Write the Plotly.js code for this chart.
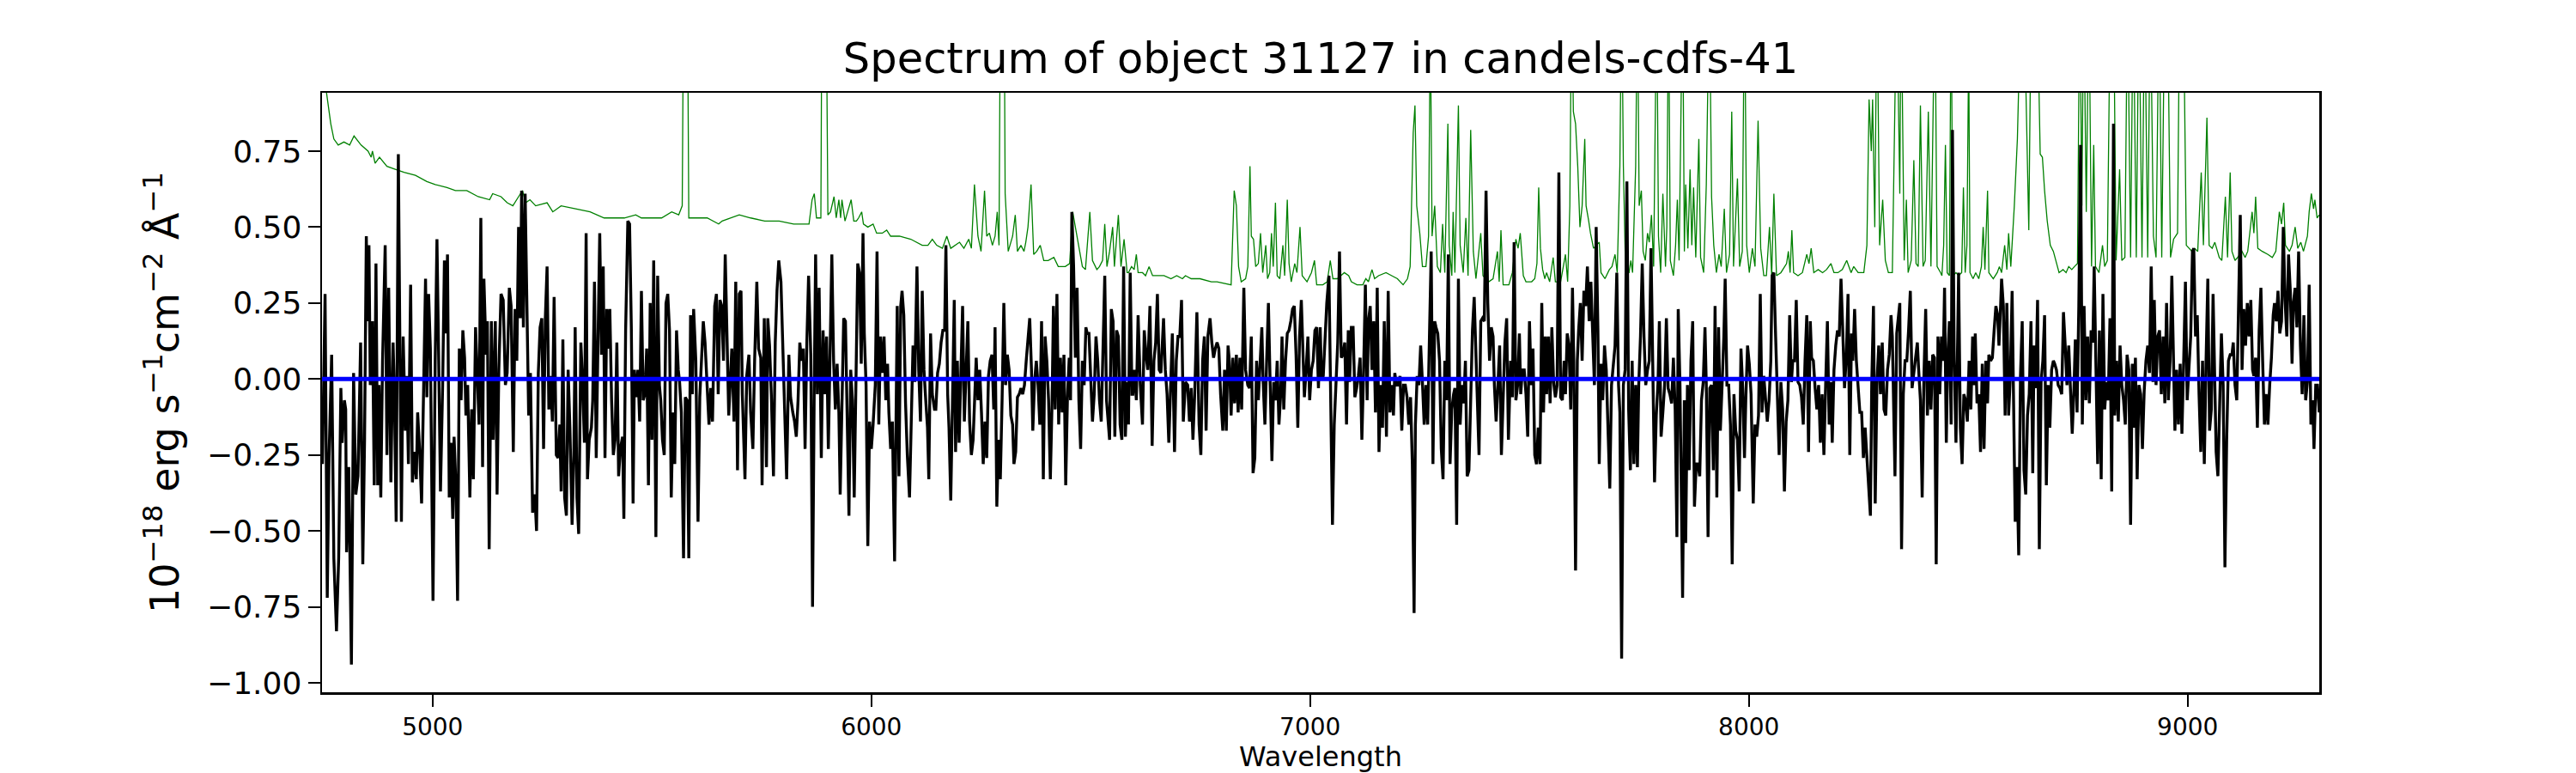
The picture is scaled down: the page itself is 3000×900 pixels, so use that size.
<!DOCTYPE html>
<html>
<head>
<meta charset="utf-8">
<script src="https://cdn.plot.ly/plotly-3.0.1.min.js"></script>
<style>html,body{margin:0;padding:0;background:#fff;}#chart{width:3000px;height:900px;}</style>
</head>
<body>
<div id="chart"></div>
<script>
// ---- Data ----
const fluxWave = [
4749,4752,4755,4760,4764,4770,4775,4781,4786,4791,4794,4799,4802,4804,4809,4815,4820,4825,4830,4836,4841,4845,4849,4852,4855,4858,4863,4867,4871,4875,4878,4882,4886,4892,4896,4900,4905,4910,4913,4917,4922,4926,4929,4933,4938,4941,4945,4950,4954,4959,4963,4966,4971,4975,4979,4984,4987,4991,4995,5001,5006,5010,5014,5018,5023,5027,5031,5034,5038,5042,5046,5049,5053,5057,5061,5065,5069,5073,5076,5080,5085,5089,5093,5098,5102,5106,5110,5114,5117,5122,5125,5129,5134,5138,5143,5147,5151,5156,5161,5166,5170,5175,5179,5184,5188,5192,5196,5200,5203,5207,5211,5215,5219,5223,5228,5233,5237,5241,5245,5249,5253,5257,5261,5265,5269,5273,5277,5282,5286,5290,5293,5297,5301,5305,5309,5313,5318,5322,5325,5329,5333,5338,5342,5346,5350,5353,5357,5362,5365,5369,5373,5377,5381,5385,5389,5393,5397,5401,5404,5408,5412,5416,5420,5424,5428,5433,5436,5440,5445,5449,5453,5457,5460,5464,5468,5472,5476,5480,5484,5488,5492,5496,5500,5504,5509,5513,5517,5520,5524,5528,5532,5536,5540,5544,5548,5552,5556,5560,5563,5567,5572,5576,5580,5584,5588,5592,5595,5600,5605,5609,5613,5617,5621,5626,5630,5634,5638,5643,5647,5651,5655,5659,5663,5667,5671,5675,
5682,5687,5691,5695,5699,5703,5706,5712,5716,5721,5725,5730,5734,5739,5743,5748,5751,5756,5761,5764,5768,5772,5777,5781,5785,5789,5794,5798,5802,5807,5812,5816,5821,5825,5829,5833,5837,5841,5845,5849,5853,5857,5862,5866,5870,5873,5877,5881,5886,5890,5894,5898,5902,5906,5910,5914,5918,5922,5926,5929,5933,5937,5941,5945,5949,5953,5957,5961,5965,5969,5973,5977,5981,5984,5988,5992,5996,6000,6004,6009,6013,6017,6021,6025,6029,6033,6037,6040,6044,6048,6053,6056,6059,6063,6067,6070,6074,6078,6082,6087,6091,6095,6099,6104,6108,6112,6116,6120,6124,6128,6131,6135,6139,6144,6147,6151,6155,6159,6163,6167,6170,6174,6177,6181,6185,6189,6192,6196,6200,6204,6208,6212,6216,6220,6224,6228,6232,6236,6239,6243,6247,6251,6255,6259,6263,6267,6271,6275,6279,6282,6286,6290,6294,6298,6302,6306,6310,6314,6318,6322,6325,6329,6333,6337,6341,6345,6349,6353,6357,6361,6365,6368,6372,6376,6380,6384,6388,6392,6396,6400,6404,6408,6412,6415,6419,6423,6427,6431,6435,6439,6443,6447,6451,6454,6457,6461,6465,6469,6473,6477,6481,6485,6489,6492,6496,6500,6504,6508,6512,6516,6520,6524,6528,6532,6536,6539,6543,6547,6551,6555,6559,6563,6567,6571,6575,6579,6583,6586,6590,6594,
6596,6600,6604,6608,6613,6618,6622,6626,6630,6635,6640,6644,6648,6652,6656,6660,6666,6670,6674,6678,6682,6686,6691,6695,6699,6703,6707,6711,6716,6721,6725,6729,6733,6737,6742,6747,6751,6755,6759,6763,6767,6772,6776,6780,6784,6788,6792,6796,6801,6805,6809,6813,6816,6820,6824,6828,6832,6836,6840,6844,6849,6853,6858,6862,6866,6870,6874,6878,6882,6886,6890,6893,6897,6901,6905,6909,6913,6917,6921,6925,6929,6933,6936,6940,6944,6948,6952,6956,6960,6964,6968,6972,6976,6980,6983,6987,6991,6995,6999,7003,7007,7011,7015,7019,7023,7026,7030,7034,7038,7043,7047,7051,7055,7059,7063,7067,7071,7075,7079,7083,7087,7090,7094,7098,7102,7106,7110,7114,7118,7122,7126,7130,7133,7137,7141,7145,7149,7153,7157,7161,7165,7169,7174,7178,7182,7186,7190,7193,7197,7201,7205,7209,7213,7217,7221,7225,7229,7233,7237,7240,7244,7248,7252,7256,7260,7264,7268,7272,7276,7280,7284,7287,7291,7295,7299,7303,7307,7311,7315,7319,7323,7327,7330,7334,7338,7342,7346,7350,7354,7358,7362,7366,7370,7374,7377,7381,7385,7389,7393,7397,7401,7405,7409,7413,7417,7420,7424,7428,7432,7436,7440,7444,7448,7452,7457,7461,7465,7469,7473,7477,7480,7484,7488,7492,7496,7500,7504,7508,7512,7516,
7520,7524,7528,7532,7536,7539,7543,7547,7551,7555,7559,7563,7567,7571,7575,7579,7582,7586,7590,7594,7598,7601,7605,7609,7612,7616,7620,7624,7628,7632,7636,7640,7644,7648,7652,7656,7659,7663,7667,7671,7675,7679,7683,7687,7691,7695,7699,7703,7706,7710,7714,7718,7722,7726,7730,7734,7738,7742,7746,7749,7753,7757,7761,7765,7769,7773,7777,7781,7785,7789,7793,7796,7800,7804,7808,7812,7816,7820,7824,7828,7832,7836,7839,7843,7849,7853,7856,7860,7864,7868,7872,7876,7880,7884,7888,7892,7896,7900,7903,7907,7911,7915,7919,7923,7927,7931,7935,7939,7943,7946,7950,7954,7958,7962,7966,7970,7974,7978,7982,7986,7990,7993,7997,8001,8005,8010,8014,8018,8022,8026,8030,8034,8038,8042,8046,8050,8053,8057,8061,8065,8069,8073,8077,8081,8085,8089,8093,8097,8100,8104,8108,8112,8116,8120,8124,8128,8132,8136,8140,8143,8147,8151,8155,8159,8163,8167,8171,8175,8179,8183,8187,8190,8194,8198,8202,8206,8210,8214,8218,8222,8226,8230,8234,8237,8241,8245,8249,8253,8257,8261,8265,8269,8273,8277,8280,8284,8288,8292,8296,8300,8304,8308,8312,8316,8320,8324,8327,8333,8337,8340,8344,8348,8352,8356,8360,8364,8368,8372,8376,8380,8384,8387,8391,8395,8399,8403,8407,8411,8415,8419,8423,8427,8431,8434,
8435,8439,8443,8446,8450,8453,8457,8461,8464,8468,8472,8476,8478,8482,8486,8490,8494,8498,8502,8506,8510,8514,8516,8520,8524,8528,8532,8536,8540,8544,8547,8551,8555,8559,8563,8567,8570,8574,8576,8580,8584,8588,8592,8596,8600,8604,8607,8611,8615,8619,8623,8627,8631,8635,8639,8643,8647,8650,8654,8658,8662,8666,8670,8674,8678,8682,8686,8690,8694,8697,8701,8705,8709,8713,8717,8721,8725,8729,8733,8737,8741,8744,8748,8752,8756,8760,8764,8768,8772,8776,8780,8784,8787,8791,8795,8799,8803,8807,8811,8815,8819,8823,8827,8831,8834,8838,8842,8846,8850,8854,8858,8862,8866,8870,8874,8877,8881,8885,8889,8893,8897,8901,8905,8909,8913,8917,8921,8924,8928,8932,8936,8940,8944,8948,8952,8956,8960,8964,8968,8971,8975,8979,8983,8987,8991,8995,8999,9003,9007,9011,9014,9018,9022,9026,9030,9034,9038,9042,9046,9050,9054,9058,9061,9065,9069,9073,9077,9081,9085,9089,9093,9097,9101,9104,9108,9112,9116,9120,9124,9128,9132,9136,9140,9144,9148,9151,9155,9159,9163,9167,9171,9175,9179,9183,9187,9191,9195,9198,9202,9206,9210,9214,9218,9222,9226,9230,9234,9238,9241,9245,9249,9253,9257,9261,9265,9269,9273,9277,9281,9285,9288,9292,9296,9300
];
const fluxValues = [
-0.28,0.06,0.28,-0.72,-0.26,0.08,-0.59,-0.83,-0.59,-0.03,-0.21,-0.07,-0.10,-0.57,-0.29,-0.94,0.02,-0.38,-0.32,0.12,-0.61,-0.20,0.47,0.19,0.44,-0.02,0.19,-0.35,0.38,-0.35,-0.02,-0.39,0.06,0.44,-0.25,0.30,-0.34,0.12,-0.05,-0.47,0.74,0.03,-0.47,0.14,-0.17,0.01,-0.28,0.31,-0.34,-0.24,-0.33,-0.11,-0.25,-0.41,-0.03,0.33,-0.06,0.28,0.10,-0.73,0.06,0.46,0.06,-0.37,-0.02,0.39,0.15,0.41,-0.39,-0.21,-0.46,-0.19,-0.34,-0.73,0.10,-0.07,0.16,0.07,-0.12,-0.02,-0.39,-0.10,-0.33,0.17,0.01,-0.15,0.53,-0.29,0.33,0.08,0.19,-0.56,0.19,-0.20,0.19,-0.38,0.03,0.28,0.26,-0.02,0.02,0.30,0.24,-0.24,0.23,0.06,0.50,0.20,0.62,0.17,0.61,0.29,-0.12,0.02,-0.44,-0.38,-0.50,0.02,0.17,0.20,-0.23,0.20,0.37,-0.10,0.01,-0.14,0.27,-0.25,-0.26,-0.15,-0.37,0.13,-0.39,-0.45,0.03,-0.16,-0.48,-0.25,0.17,-0.39,-0.51,0.12,-0.01,-0.21,0.48,-0.33,-0.20,-0.16,-0.07,0.32,-0.26,0.12,0.48,0.08,0.37,-0.26,0.23,0.10,0.23,-0.07,-0.25,-0.20,0.12,-0.32,-0.23,-0.19,-0.46,0.16,0.52,0.51,0.17,-0.41,0.03,-0.06,0.03,-0.14,0.29,-0.07,-0.05,0.10,-0.35,0.25,-0.20,0.39,-0.52,0.34,-0.02,-0.07,-0.20,-0.25,0.25,0.28,0.16,-0.39,-0.11,-0.28,0.16,0.03,-0.01,-0.11,-0.59,-0.06,-0.07,-0.59,0.21,-0.05,0.23,0.06,-0.47,-0.06,0.06,0.19,0.12,-0.01,-0.15,-0.03,-0.14,0.24,0.28,-0.05,0.26,0.24,0.06,0.41,0.19,-0.12,
0.10,-0.14,0.32,-0.30,0.28,0.29,-0.05,-0.33,0.01,0.08,-0.11,-0.23,0.06,0.32,0.10,0.07,-0.35,0.20,-0.29,0.20,0.11,-0.05,-0.32,0.12,0.29,0.39,0.32,0.12,-0.10,-0.33,0.08,-0.06,-0.11,-0.14,-0.19,-0.07,0.12,0.06,0.10,-0.23,0.12,0.34,0.08,-0.75,-0.01,0.41,-0.05,0.30,-0.26,0.16,-0.05,0.14,-0.23,0.06,0.41,0.06,-0.10,0.05,-0.11,-0.38,-0.02,0.20,0.19,-0.14,-0.45,0.03,-0.07,-0.39,-0.02,0.38,0.35,0.05,0.48,0.15,-0.02,-0.55,-0.14,-0.23,-0.15,-0.02,0.42,-0.15,0.14,0.02,0.14,-0.07,0.05,-0.11,-0.23,-0.14,-0.60,-0.02,0.24,-0.32,0.24,0.29,0.21,-0.08,-0.25,-0.39,-0.14,0.11,-0.01,0.37,0.03,-0.14,0.29,0.03,-0.07,-0.16,-0.33,0.15,-0.05,-0.10,-0.10,0.02,0.05,0.12,0.16,0.16,0.44,-0.05,-0.16,-0.40,-0.07,0.26,-0.24,0.06,-0.21,0.03,0.24,-0.14,0.06,0.19,-0.14,-0.25,-0.20,-0.01,0.07,-0.07,0.03,-0.11,-0.28,-0.14,-0.26,0.01,0.06,0.08,-0.10,0.17,-0.42,-0.20,-0.33,-0.07,0.25,-0.02,0.08,0.03,-0.12,-0.15,-0.28,-0.24,-0.06,-0.05,-0.03,-0.05,-0.02,0.06,0.12,0.20,0.03,-0.17,-0.01,0.06,-0.02,-0.15,0.19,-0.33,0.14,0.06,-0.07,-0.33,-0.07,0.24,-0.10,0.28,-0.15,0.07,-0.11,0.08,-0.35,-0.06,0.07,-0.07,0.55,0.37,0.07,0.30,-0.07,-0.23,0.06,-0.02,0.17,0.15,0.15,-0.02,-0.14,-0.05,0.14,0.06,-0.07,-0.14,0.16,0.34,-0.07,-0.14,-0.20,0.23,0.19,-0.19,0.16,0.14,-0.15,-0.20,0.37,-0.19,-0.01,-0.15,0.35,-0.05,
-0.05,0.03,-0.07,0.21,-0.02,-0.15,0.16,0.08,0.03,0.24,-0.22,0.06,0.12,0.28,0.03,0.02,0.20,0.03,-0.05,-0.21,-0.03,0.15,-0.24,0.06,0.14,0.14,0.26,-0.14,-0.01,-0.02,-0.14,-0.03,-0.20,-0.05,0.22,-0.15,-0.25,0.06,0.14,-0.17,0.14,0.20,0.12,0.07,0.10,0.12,0.10,-0.05,-0.17,0.03,-0.17,0.11,0.06,-0.12,0.07,-0.08,0.08,-0.11,0.07,-0.10,0.30,0.03,-0.02,-0.03,0.14,-0.31,-0.26,0.06,-0.07,0.07,0.17,-0.01,-0.15,0.06,0.25,-0.02,-0.27,-0.01,-0.07,0.06,-0.15,-0.05,0.14,-0.10,0.06,0.15,0.16,0.19,0.23,0.24,0.08,-0.16,0.14,0.26,0.11,-0.06,0.03,0.14,-0.07,0.03,0.06,0.16,0.17,-0.03,0.17,0.00,0.01,0.12,0.25,0.34,-0.07,-0.48,-0.15,0.01,0.12,0.42,0.07,0.08,0.12,-0.15,0.16,-0.01,0.17,0.17,-0.06,-0.03,0.01,0.07,-0.20,0.03,0.31,-0.07,0.19,0.24,0.03,0.19,-0.11,0.30,-0.24,-0.02,-0.16,0.19,-0.19,0.29,-0.11,-0.02,-0.12,0.02,-0.02,-0.02,0.01,-0.17,-0.02,-0.02,-0.06,-0.15,-0.06,-0.28,-0.77,-0.15,0.01,-0.02,0.11,-0.01,-0.15,-0.02,-0.15,0.14,0.42,-0.28,0.19,0.17,0.15,0.06,-0.23,-0.33,0.06,-0.07,0.41,-0.28,-0.10,-0.05,-0.03,-0.48,0.33,-0.15,-0.02,-0.08,0.06,-0.32,-0.30,-0.07,0.16,0.27,0.11,-0.07,-0.25,0.19,0.20,0.19,0.62,0.25,0.06,0.17,0.14,-0.02,-0.14,-0.02,0.11,-0.25,-0.02,0.12,0.20,-0.20,0.06,-0.06,0.45,-0.07,-0.02,0.15,-0.05,0.03,0.03,-0.05,-0.19,0.19,-0.02,0.10,-0.25,-0.28,
-0.16,-0.28,0.25,-0.11,0.14,-0.05,0.14,-0.08,0.17,-0.01,-0.06,-0.02,0.68,-0.06,-0.07,0.06,-0.05,0.15,0.11,-0.10,0.30,0.06,-0.63,0.06,0.16,0.25,0.06,0.29,0.24,0.37,0.19,0.32,0.15,-0.02,0.50,0.16,-0.28,0.05,-0.07,0.11,0.03,-0.14,-0.36,-0.02,0.06,0.11,0.35,-0.02,-0.11,-0.92,-0.02,0.03,0.65,-0.10,-0.30,0.06,-0.28,-0.02,-0.29,-0.02,0.14,0.38,0.14,-0.02,0.03,0.06,0.43,0.06,-0.34,-0.12,-0.01,0.19,-0.19,-0.11,-0.02,0.20,-0.03,-0.05,-0.08,0.07,-0.10,-0.52,0.23,-0.02,-0.72,-0.07,-0.54,-0.02,-0.30,0.06,0.19,-0.42,-0.28,-0.28,-0.32,-0.07,-0.01,0.17,-0.02,-0.52,-0.03,-0.02,-0.30,0.24,-0.39,0.17,-0.17,-0.02,0.14,0.33,-0.02,-0.02,-0.15,-0.61,-0.05,-0.17,-0.20,-0.37,0.10,-0.03,-0.26,-0.07,0.11,0.05,-0.05,-0.41,-0.15,-0.19,-0.12,0.28,-0.11,0.01,-0.08,-0.14,-0.07,0.06,0.34,0.35,0.14,-0.05,-0.25,-0.01,-0.10,-0.37,-0.14,-0.07,0.21,-0.01,0.06,0.06,0.26,-0.01,-0.02,-0.06,-0.15,0.06,0.21,-0.24,0.19,0.07,0.06,-0.03,-0.10,-0.02,-0.21,-0.05,-0.25,-0.02,0.19,-0.15,-0.01,-0.21,0.03,0.11,0.16,0.14,0.33,0.16,-0.03,0.07,0.28,-0.25,0.15,0.06,0.23,0.06,-0.02,-0.11,-0.11,-0.26,-0.16,-0.26,-0.33,-0.45,-0.02,0.24,-0.41,-0.01,0.11,-0.05,0.12,-0.10,-0.12,0.03,0.08,0.21,0.14,-0.32,0.15,0.19,0.25,-0.56,-0.05,0.06,0.06,0.16,0.29,-0.03,0.02,0.08,0.12,0.03,-0.07,-0.39,0.01,0.23,-0.12,0.06,-0.10,0.08,0.07,-0.61,0.14,0.05,
-0.05,0.14,0.06,0.30,-0.21,0.06,0.19,-0.15,0.82,0.06,-0.21,0.14,0.35,-0.16,-0.28,-0.05,-0.07,-0.14,0.06,-0.10,0.14,-0.02,0.15,-0.08,-0.05,-0.24,0.05,-0.23,0.06,-0.08,0.08,0.06,0.07,0.16,0.24,0.21,0.11,0.25,0.33,0.24,-0.12,0.25,-0.12,0.01,0.29,-0.15,-0.47,-0.29,-0.58,0.01,0.19,-0.30,-0.38,-0.12,-0.05,0.19,-0.31,0.11,-0.03,0.26,-0.56,-0.01,0.06,0.21,-0.35,-0.02,-0.16,0.03,0.06,0.05,0.03,-0.02,-0.03,-0.05,0.22,0.11,-0.02,0.11,-0.02,-0.18,-0.03,0.13,-0.11,0.24,0.77,-0.15,0.24,-0.07,0.14,-0.08,0.16,0.12,0.37,0.05,-0.28,0.16,-0.33,0.28,-0.10,-0.01,-0.07,0.20,-0.37,0.84,-0.12,0.06,-0.14,0.11,-0.02,-0.07,-0.15,0.08,0.03,-0.48,0.05,-0.16,0.07,-0.33,-0.02,-0.05,-0.23,-0.04,0.06,0.11,0.02,0.37,-0.01,0.26,-0.02,0.14,0.16,-0.05,0.14,-0.08,0.25,-0.07,0.06,0.34,0.03,-0.17,0.03,-0.15,0.05,-0.18,0.06,0.32,-0.07,0.03,0.14,0.42,0.43,0.14,0.21,-0.05,-0.24,0.06,-0.28,0.06,0.33,-0.17,-0.10,0.28,0.05,-0.24,-0.32,-0.07,0.15,-0.02,-0.62,-0.20,0.06,0.08,0.08,0.12,-0.02,-0.07,0.26,0.54,0.03,0.23,0.11,0.25,0.14,0.26,0.03,0.01,0.07,-0.16,0.16,0.30,0.06,-0.15,-0.05,-0.15,-0.02,0.07,0.21,0.25,0.19,0.29,0.15,0.19,0.50,0.26,0.14,0.41,0.29,0.05,0.25,0.30,0.17,0.42,0.11,-0.05,0.21,-0.07,-0.01,0.31,-0.15,-0.07,-0.23,-0.02,-0.02,-0.11
];
const noiseWave = [
4748,4760,4768,4775,4785,4798,4811,4821,4837,4853,4860,4863,4869,4879,4896,4915,4935,4961,4987,5006,5033,5052,5078,5104,5130,5137,5156,5170,5183,5196,5205,5212,5222,5235,5261,5274,5293,5326,5359,5391,5411,5437,5463,5476,5522,5545,5561,5569,5573,5580,5584,5600,5626,5652,
5660,5699,5725,5757,5790,5823,5858,5865,5870,5875,5885,5888,5896,5901,5907,5915,5920,5926,5930,5933,5940,5946,5954,5960,5966,5971,5978,5982,5992,6004,6012,6025,6035,6044,6064,6090,6116,6129,6139,6149,6162,6172,6181,6201,6211,6222,6228,6235,6243,6250,6258,6263,6269,6276,6282,6287,6291,6295,6302,6305,6312,6322,6328,6333,6341,6348,6352,6357,6364,6370,6377,6385,6393,6403,6416,6426,6442,6452,6459,6465,6472,6481,6488,6498,6504,6514,6520,6527,6532,6537,6543,6550,6554,6563,6569,6576,6583,
6586,6593,6599,6604,6608,6618,6625,6633,6641,6657,6667,6683,6696,6709,6716,6729,6749,6775,6788,6820,6827,6832,6837,6843,6853,6858,6863,6866,6871,6876,6882,6887,6892,6899,6903,6908,6912,6916,6921,6925,6931,6938,6942,6948,6952,6957,6965,6970,6977,6982,6993,7003,7010,7015,7029,7039,7046,7052,7062,7070,7078,7088,7094,7107,7120,7127,7133,7141,7147,7156,7173,7186,7199,7212,7222,7228,7235,7239,7243,7250,7256,7264,7270,7274,7278,7284,7290,7297,7302,7307,7314,7317,7323,7326,7330,7338,7342,7349,7355,7360,7366,7372,7378,7389,7394,7407,7417,7427,7431,7435,7440,7453,7461,7469,7474,7479,7486,7492,7505,
7512,7517,7521,7525,7530,7535,7539,7546,7554,7559,7571,7582,7587,7592,7596,7600,7605,7610,7615,7620,7626,7629,7635,7639,7646,7652,7659,7663,7672,7682,7688,7695,7700,7706,7710,7714,7719,7727,7731,7735,7742,7746,7750,7755,7759,7764,7769,7773,7778,7783,7790,7794,7799,7804,7810,7813,7817,7821,7828,7833,7837,7841,7849,7853,7856,7861,7866,7870,7874,7879,7886,7890,7897,7903,7910,7915,7920,7926,7932,7937,7944,7949,7956,7961,7965,7974,7979,7985,7990,7995,8001,8008,8014,8021,8027,8034,8040,8047,8052,8057,8063,8073,8081,8086,8090,8094,8098,8102,8112,8122,8132,8137,8142,8148,8158,8168,8177,8187,8194,8203,8213,8223,8233,8239,8249,8262,8269,8274,8279,8282,8287,8292,8298,8305,8311,8318,8327,8337,8344,8347,8354,8359,8363,8370,8376,8381,8386,8391,8397,8402,8409,8415,8424,8429,
8437,8440,8444,8448,8452,8457,8461,8465,8472,8478,8485,8489,8493,8497,8501,8504,8511,8517,8524,8530,8534,8538,8544,8547,8557,8566,8571,8576,8583,8588,8592,8597,8605,8612,8619,8628,8638,8643,8658,8664,8669,8674,8680,8687,8694,8700,8707,8716,8723,8729,8736,8742,8749,8754,8759,8763,8769,8775,8781,8786,8790,8798,8806,8811,8817,8824,8831,8837,8845,8850,8857,8863,8870,8876,8883,8889,8896,8902,8909,8915,8922,8928,8935,8941,8948,8954,8961,8968,8973,8977,8982,8990,8997,9003,9010,9016,9023,9031,9036,9044,9049,9056,9062,9072,9078,9086,9091,9097,9101,9108,9114,9124,9131,9137,9147,9151,9155,9160,9170,9183,9193,9201,9209,9214,9219,9223,9232,9238,9245,9251,9258,9264,9273,9277,9282,9287,9290,9295,9300
];
const noiseValues = [
1.05,0.93,0.84,0.79,0.77,0.78,0.77,0.80,0.77,0.75,0.73,0.75,0.71,0.73,0.70,0.69,0.68,0.67,0.65,0.64,0.63,0.62,0.62,0.60,0.59,0.61,0.60,0.58,0.57,0.60,0.62,0.58,0.59,0.57,0.58,0.55,0.57,0.56,0.55,0.53,0.53,0.53,0.54,0.53,0.53,0.55,0.54,0.57,1.5,1.5,0.53,0.53,0.53,0.51,
0.52,0.54,0.53,0.52,0.52,0.51,0.51,0.59,0.61,0.53,0.53,1.5,1.5,0.54,0.55,0.60,0.53,0.59,0.53,0.59,0.52,0.55,0.59,0.52,0.52,0.53,0.55,0.51,0.50,0.51,0.48,0.48,0.49,0.47,0.47,0.46,0.44,0.44,0.46,0.44,0.43,0.47,0.43,0.45,0.43,0.46,0.43,0.64,0.47,0.42,0.62,0.47,0.48,0.44,0.47,0.55,0.44,1.5,1.5,0.61,0.42,0.47,0.54,0.42,0.44,0.42,0.45,0.50,0.64,0.41,0.42,0.44,0.39,0.39,0.40,0.37,0.37,0.38,0.55,0.50,0.44,0.37,0.36,0.55,0.39,0.36,0.37,0.39,0.51,0.37,0.42,0.50,0.37,0.54,0.37,0.46,0.35,
0.35,0.37,0.36,0.41,0.35,0.35,0.34,0.37,0.34,0.34,0.34,0.33,0.34,0.33,0.34,0.33,0.33,0.32,0.32,0.31,0.62,0.57,0.37,0.32,0.33,0.37,0.70,0.47,0.46,0.37,0.38,0.48,0.35,0.44,0.33,0.35,0.48,0.37,0.58,0.34,0.33,0.44,0.34,0.59,0.38,0.32,0.38,0.35,0.50,0.34,0.32,0.35,0.39,0.31,0.31,0.32,0.39,0.33,0.33,0.34,0.35,0.34,0.32,0.31,0.31,0.33,0.32,0.36,0.33,0.34,0.35,0.34,0.33,0.31,0.33,0.37,0.81,0.90,0.57,0.48,0.37,0.37,0.47,1.2,0.47,0.57,0.37,0.35,0.51,0.35,0.84,0.44,0.34,0.55,0.35,0.90,0.44,0.35,0.53,0.34,0.82,0.42,0.33,0.48,0.34,0.32,0.33,0.42,0.32,0.49,0.31,0.31,0.35,0.46,0.43,0.48,0.34,0.32,0.32,
0.33,0.38,0.63,0.43,0.36,0.33,0.35,0.32,0.40,0.32,0.32,0.41,0.32,0.57,1.3,0.88,0.84,0.70,0.50,0.57,0.79,0.57,0.52,0.48,0.43,0.44,0.45,0.35,0.33,0.36,0.37,0.41,0.35,0.70,1.3,0.70,0.35,0.35,0.39,0.35,0.70,1.3,0.57,0.62,0.42,0.39,0.48,0.45,0.54,0.37,1.3,0.47,0.35,0.61,0.37,0.50,1.3,0.39,0.34,0.44,0.59,0.39,1.3,0.42,0.64,0.43,0.69,0.44,0.63,0.40,0.79,0.40,0.35,0.64,1.3,0.60,0.44,0.35,0.41,0.37,0.56,0.35,0.41,0.88,0.37,0.66,0.37,0.42,1.3,0.44,0.35,0.43,0.37,0.85,0.43,0.34,0.34,0.50,0.34,0.61,0.34,0.35,0.37,0.38,0.42,0.35,0.49,0.35,0.34,0.35,0.41,0.38,0.43,0.35,0.36,0.35,0.36,0.38,0.35,0.35,0.36,0.39,0.35,0.37,0.35,0.35,0.44,0.92,0.75,0.92,0.50,1.3,0.44,0.59,0.39,0.35,0.35,1.3,0.61,1.3,0.39,0.59,0.35,0.39,0.72,0.38,0.37,0.90,0.37,0.39,0.88,0.37,1.3,0.37,
0.35,0.34,0.44,0.77,0.35,0.34,1.3,0.34,0.35,0.34,0.35,0.63,0.35,0.44,1.1,0.35,0.33,0.35,0.33,0.37,0.50,0.36,0.62,0.35,0.33,0.35,0.37,0.35,0.44,0.36,0.48,0.37,0.57,0.79,1.2,1.2,0.49,1.2,1.2,0.74,0.73,0.62,0.52,0.44,0.42,0.39,0.35,0.36,0.35,0.37,0.36,0.37,0.38,1.3,0.57,1.3,0.55,1.3,0.37,0.77,0.37,0.35,0.44,0.37,0.39,1.3,1.3,0.39,0.69,0.39,0.40,1.3,0.40,1.3,0.40,1.3,0.40,1.3,0.40,1.3,0.47,0.40,1.3,0.40,1.3,1.3,0.40,0.46,0.47,0.48,1.3,1.3,0.44,0.43,0.42,0.43,0.42,0.68,0.44,0.86,0.44,0.43,0.45,0.40,0.39,0.60,0.40,0.68,0.42,0.39,0.40,0.42,0.40,0.42,0.55,0.48,0.60,0.43,0.42,0.41,0.40,0.42,0.55,0.51,0.58,0.44,0.42,0.44,0.50,0.43,0.45,0.42,0.47,0.55,0.61,0.56,0.59,0.53,0.54
];
const zeroWave = [4748, 9300];
const zeroValues = [0, 0];
const xTickValues = [5000, 6000, 7000, 8000, 9000];
const yTickValues = [-1.00, -0.75, -0.50, -0.25, 0.00, 0.25, 0.50, 0.75];
const titleText = 'Spectrum of object 31127 in candels-cdfs-41';
const xTitleText = 'Wavelength';
const yTitleText = '10<sup>\u221218</sup> erg s<sup>\u22121</sup>cm<sup>\u22122</sup> \u00c5<sup>\u22121</sup>';

// ---- Chart ----
const FONT = 'DejaVu Sans, Liberation Sans, sans-serif';
const traces = [
  {x: noiseWave, y: noiseValues, type: 'scatter', mode: 'lines',
   line: {color: '#008000', width: 1.3}, hoverinfo: 'skip'},
  {x: fluxWave, y: fluxValues, type: 'scatter', mode: 'lines',
   line: {color: '#000000', width: 3.4}, hoverinfo: 'skip'},
  {x: zeroWave, y: zeroValues, type: 'scatter', mode: 'lines',
   line: {color: '#0000ff', width: 5}, hoverinfo: 'skip'}
];
const layout = {
  width: 3000, height: 900,
  margin: {l: 375, r: 299, t: 108, b: 94, pad: 0},
  paper_bgcolor: '#ffffff', plot_bgcolor: '#ffffff',
  showlegend: false,
  font: {family: FONT, color: '#000000'},
  title: {text: titleText, font: {family: FONT, size: 49.5, color: '#000'},
          xref: 'paper', x: 0.5, xanchor: 'center', y: 1 - 68/900, yanchor: 'middle'},
  xaxis: {
    range: [4748, 9300], tickmode: 'array', tickvals: xTickValues,
    ticktext: xTickValues.map(String),
    ticks: 'outside', ticklen: 14, tickwidth: 2, tickcolor: '#000',
    showline: true, linewidth: 2.5, linecolor: '#000', mirror: true,
    showgrid: false, zeroline: false,
    tickfont: {family: FONT, size: 28, color: '#000'},
    title: {text: xTitleText, font: {family: FONT, size: 32, color: '#000'}, standoff: 4},
    automargin: false
  },
  yaxis: {
    range: [-1.031, 0.942], tickmode: 'array', tickvals: yTickValues,
    tickformat: '.2f',
    ticks: 'outside', ticklen: 14, tickwidth: 2, tickcolor: '#000',
    showline: true, linewidth: 2.5, linecolor: '#000', mirror: true,
    showgrid: false, zeroline: false,
    tickfont: {family: FONT, size: 36, color: '#000'},
    title: {text: yTitleText, font: {family: FONT, size: 46, color: '#000'}, standoff: 18},
    automargin: false
  }
};
Plotly.newPlot('chart', traces, layout, {staticPlot: true, displayModeBar: false});
</script>
</body>
</html>
